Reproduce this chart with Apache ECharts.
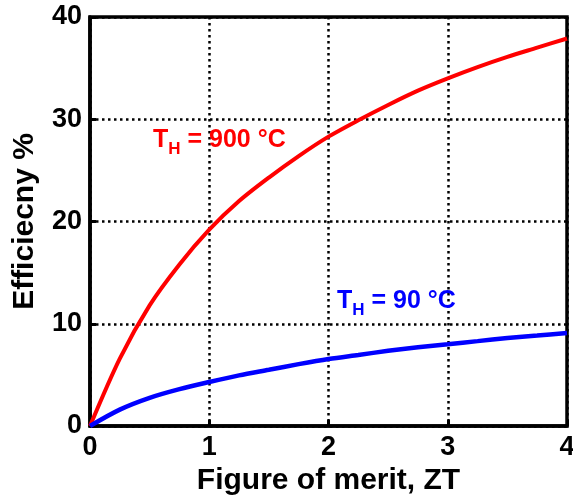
<!DOCTYPE html>
<html>
<head>
<meta charset="utf-8">
<style>
  html, body { margin: 0; padding: 0; background: #fff; }
  #chart { width: 573px; height: 497px; }
</style>
<script src="https://cdn.jsdelivr.net/npm/echarts@6/dist/echarts.min.js"></script>
</head>
<body>
<div id="chart"></div>
<script>
// Thermoelectric conversion efficiency vs. figure of merit ZT
const ztSteps = [0, 0.25, 0.5, 0.75, 1, 1.25, 1.5, 1.75, 2, 2.25, 2.5, 2.75, 3, 3.25, 3.5, 3.75, 4];
const effHot900 = [0, 6.6, 11.8, 15.8, 19.2, 22.0, 24.3, 26.4, 28.3, 29.9, 31.4, 32.8, 34.0, 35.1, 36.1, 37.0, 37.9];
const effHot90 = [0, 1.6, 2.75, 3.6, 4.3, 4.95, 5.5, 6.05, 6.55, 6.95, 7.35, 7.7, 8.0, 8.3, 8.6, 8.85, 9.1];

const xTicks = [0, 1, 2, 3, 4];
const yTicks = [0, 10, 20, 30, 40];

const FONT = '"Liberation Sans", Arial, sans-serif';

const pairs = (xs, ys) => xs.map((x, i) => [x, ys[i]]);

const chart = echarts.init(document.getElementById('chart'), null, { renderer: 'canvas' });

const gridDots = { color: '#000', width: 2.5, type: [2.5, 3.5] };

const curveLabel = (main, sub, rest, color) => ({
  text: '{t|' + main + '}{s|' + sub + '}{t|' + rest + '}',
  rich: {
    t: { fontFamily: FONT, fontWeight: 'bold', fontSize: 25, fill: color, lineHeight: 27, verticalAlign: 'bottom' },
    s: { fontFamily: FONT, fontWeight: 'bold', fontSize: 17, fill: color, lineHeight: 17, verticalAlign: 'bottom', padding: [0, 0, -5, 0] }
  }
});

chart.setOption({
  animation: false,
  backgroundColor: '#fff',
  grid: {
    left: 90, right: 6, top: 17, bottom: 71,
    outerBoundsMode: 'none',
    show: true, borderColor: '#000', borderWidth: 3.5, backgroundColor: 'transparent'
  },
  xAxis: {
    type: 'value',
    min: xTicks[0], max: xTicks[xTicks.length - 1], interval: 1,
    name: 'Figure of merit, ZT',
    nameLocation: 'middle', nameGap: 37,
    nameTextStyle: { fontFamily: FONT, fontWeight: 'bold', fontSize: 30, color: '#000' },
    axisLine: { show: true, lineStyle: { color: '#000', width: 3.5 } },
    axisTick: { show: true, inside: true, length: 6, lineStyle: { color: '#000', width: 3 } },
    axisLabel: { fontFamily: FONT, fontWeight: 'bold', fontSize: 27, color: '#000', margin: 8 },
    splitLine: { show: true, lineStyle: gridDots }
  },
  yAxis: {
    type: 'value',
    min: yTicks[0], max: yTicks[yTicks.length - 1], interval: 10,
    name: 'Efficiecny %',
    nameLocation: 'middle', nameGap: 50, nameRotate: 90,
    nameTextStyle: { fontFamily: FONT, fontWeight: 'bold', fontSize: 30, color: '#000' },
    axisLine: { show: true, lineStyle: { color: '#000', width: 3.5 } },
    axisTick: { show: true, inside: true, length: 6, lineStyle: { color: '#000', width: 3 } },
    axisLabel: { fontFamily: FONT, fontWeight: 'bold', fontSize: 27, color: '#000', margin: 8 },
    splitLine: { show: true, lineStyle: gridDots }
  },
  series: [
    {
      name: 'TH900', type: 'line', smooth: 0.3, symbol: 'none',
      data: pairs(ztSteps, effHot900),
      lineStyle: { color: '#ff0000', width: 4 }, z: 3
    },
    {
      name: 'TH90', type: 'line', smooth: 0.3, symbol: 'none',
      data: pairs(ztSteps, effHot90),
      lineStyle: { color: '#0000ff', width: 4.5 }, z: 3
    }
  ],
  graphic: [
    { type: 'text', left: 153, top: 128, z: 10, style: curveLabel('T', 'H', ' = 900 °C', '#ff0000') },
    { type: 'text', left: 337, top: 289, z: 10, style: curveLabel('T', 'H', ' = 90 °C', '#0000ff') }
  ]
});
</script>
</body>
</html>
